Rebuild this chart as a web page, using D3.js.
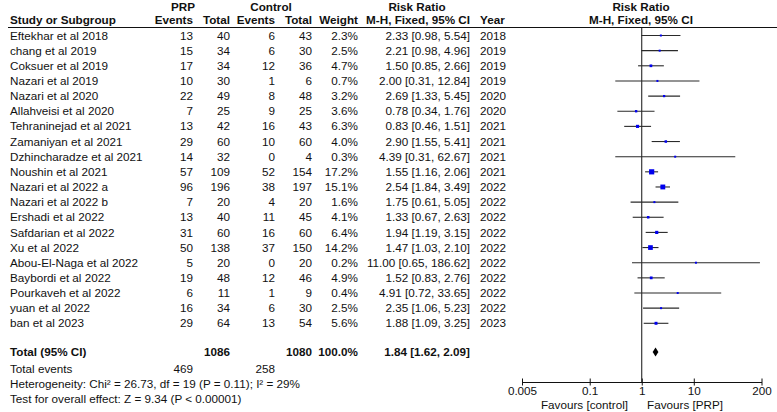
<!DOCTYPE html>
<html>
<head>
<meta charset="utf-8">
<script src="https://cdn.jsdelivr.net/npm/d3@7"></script>
<style>
  body { margin: 0; background: #fff; }
  svg text { font-family: Arial, "Liberation Sans", sans-serif; font-size: 11.7px; fill: #111; }
  .bold { font-weight: bold; }
</style>
</head>
<body>
<div id="chart"></div>
<script>
// study rows
const studies = ['Eftekhar et al 2018', 'chang et al 2019', 'Coksuer et al 2019', 'Nazari et al 2019',
  'Nazari et al 2020', 'Allahveisi et al 2020', 'Tehraninejad et al 2021', 'Zamaniyan et al 2021',
  'Dzhincharadze et al 2021', 'Noushin et al 2021', 'Nazari et al 2022 a', 'Nazari et al 2022 b',
  'Ershadi et al 2022', 'Safdarian et al 2022', 'Xu et al 2022', 'Abou-El-Naga et al 2022',
  'Baybordi et al 2022', 'Pourkaveh et al 2022', 'yuan et al 2022', 'ban et al 2023'];
const prpEvents = [13, 15, 17, 10, 22, 7, 13, 29, 14, 57, 96, 7, 13, 31, 50, 5, 19, 6, 16, 29];
const prpTotal = [40, 34, 34, 30, 49, 25, 42, 60, 32, 109, 196, 20, 40, 60, 138, 20, 48, 11, 34, 64];
const ctlEvents = [6, 6, 12, 1, 8, 9, 16, 10, 0, 52, 38, 4, 11, 16, 37, 0, 12, 1, 6, 13];
const ctlTotal = [43, 30, 36, 6, 48, 25, 43, 60, 4, 154, 197, 20, 45, 60, 150, 20, 46, 9, 30, 54];
const weights = [2.3, 2.5, 4.7, 0.7, 3.2, 3.6, 6.3, 4.0, 0.3, 17.2, 15.1, 1.6, 4.1, 6.4, 14.2, 0.2, 4.9, 0.4, 2.5, 5.6];
const rr = [2.33, 2.21, 1.50, 2.00, 2.69, 0.78, 0.83, 2.90, 4.39, 1.55, 2.54, 1.75, 1.33, 1.94, 1.47, 11.00, 1.52, 4.91, 2.35, 1.88];
const ciLo = [0.98, 0.98, 0.85, 0.31, 1.33, 0.34, 0.46, 1.55, 0.31, 1.16, 1.84, 0.61, 0.67, 1.19, 1.03, 0.65, 0.83, 0.72, 1.06, 1.09];
const ciHi = [5.54, 4.96, 2.66, 12.84, 5.45, 1.76, 1.51, 5.41, 62.67, 2.06, 3.49, 5.05, 2.63, 3.15, 2.10, 186.62, 2.76, 33.65, 5.23, 3.25];
const years = [2018, 2019, 2019, 2019, 2020, 2020, 2021, 2021, 2021, 2021, 2022, 2022, 2022, 2022, 2022, 2022, 2022, 2022, 2022, 2023];

// pooled result
const total = {prpTotal: 1086, ctlTotal: 1080, weight: '100.0%', rr: 1.84, lo: 1.62, hi: 2.09};
const totalEvents = [469, 258];
const hetText = 'Heterogeneity: Chi\u00b2 = 26.73, df = 19 (P = 0.11); I\u00b2 = 29%';
const testText = 'Test for overall effect: Z = 9.34 (P < 0.00001)';
const axisTicks = [0.005, 0.1, 1, 10, 200];

const width = 777, height = 412;
const f2 = d3.format('.2f');

const svg = d3.select('#chart').append('svg')
  .attr('width', width)
  .attr('height', height);

const x = d3.scaleLog().domain([0.005, 200]).range([522, 761.5]);
const y = d3.scaleLinear().domain([0, studies.length - 1]).range([35.5, 323.3]);
const yTotal = 352;
const yAxis = 382;

// column right edges
const col = {prpE: 193, prpT: 230, ctlE: 275, ctlT: 312, w: 358, rr: 470, year: 480};

function txt(g, xx, yy, s, anchor, bold) {
  g.append('text')
    .attr('x', xx).attr('y', yy).attr('dy', '0.35em')
    .attr('text-anchor', anchor || 'start')
    .attr('class', bold ? 'bold' : null)
    .text(s);
}

// header
const head = svg.append('g');
txt(head, 183, 6.5, 'PRP', 'middle', true);
txt(head, 271, 6.5, 'Control', 'middle', true);
txt(head, 417, 6.5, 'Risk Ratio', 'middle', true);
txt(head, 641, 6.5, 'Risk Ratio', 'middle', true);
txt(head, 10, 20, 'Study or Subgroup', 'start', true);
txt(head, col.prpE, 20, 'Events', 'end', true);
txt(head, col.prpT, 20, 'Total', 'end', true);
txt(head, col.ctlE, 20, 'Events', 'end', true);
txt(head, col.ctlT, 20, 'Total', 'end', true);
txt(head, col.w, 20, 'Weight', 'end', true);
txt(head, col.rr, 20, 'M-H, Fixed, 95% CI', 'end', true);
txt(head, col.year, 20, 'Year', 'start', true);
txt(head, 641, 20, 'M-H, Fixed, 95% CI', 'middle', true);

svg.append('line')
  .attr('x1', 8).attr('x2', width)
  .attr('y1', 27.5).attr('y2', 27.5)
  .attr('stroke', '#111').attr('stroke-width', 1);

// table rows
const rows = svg.append('g');
studies.forEach((s, i) => {
  const yy = y(i);
  txt(rows, 10, yy, s);
  txt(rows, col.prpE, yy, prpEvents[i], 'end');
  txt(rows, col.prpT, yy, prpTotal[i], 'end');
  txt(rows, col.ctlE, yy, ctlEvents[i], 'end');
  txt(rows, col.ctlT, yy, ctlTotal[i], 'end');
  txt(rows, col.w, yy, weights[i].toFixed(1) + '%', 'end');
  txt(rows, col.rr, yy, f2(rr[i]) + ' [' + f2(ciLo[i]) + ', ' + f2(ciHi[i]) + ']', 'end');
  txt(rows, col.year, yy, years[i]);
});

// totals
txt(rows, 10, yTotal, 'Total (95% CI)', 'start', true);
txt(rows, col.prpT, yTotal, total.prpTotal, 'end', true);
txt(rows, col.ctlT, yTotal, total.ctlTotal, 'end', true);
txt(rows, col.w, yTotal, total.weight, 'end', true);
txt(rows, col.rr, yTotal, f2(total.rr) + ' [' + f2(total.lo) + ', ' + f2(total.hi) + ']', 'end', true);
txt(rows, 10, 369, 'Total events');
txt(rows, col.prpE, 369, totalEvents[0], 'end');
txt(rows, col.ctlE, 369, totalEvents[1], 'end');
txt(rows, 10, 384, hetText);
txt(rows, 10, 399, testText);

// forest plot
const plot = svg.append('g');
plot.append('line')
  .attr('x1', x(1)).attr('x2', x(1))
  .attr('y1', 27.5).attr('y2', yAxis)
  .attr('stroke', '#111');

const ci = plot.selectAll('.ci').data(studies).enter().append('g').attr('class', 'ci');
ci.append('line')
  .attr('x1', (d, i) => x(ciLo[i]))
  .attr('x2', (d, i) => x(ciHi[i]))
  .attr('y1', (d, i) => y(i)).attr('y2', (d, i) => y(i))
  .attr('stroke', '#2a2a2a').attr('stroke-width', 1.1);
ci.append('rect')
  .each(function(d, i) {
    const side = Math.max(2, 1.25 * Math.sqrt(weights[i]));
    d3.select(this)
      .attr('x', x(rr[i]) - side / 2)
      .attr('y', y(i) - side / 2)
      .attr('width', side)
      .attr('height', side);
  })
  .attr('fill', '#0000ee');

// summary diamond
plot.append('path')
  .attr('d', d3.line()([
    [x(total.lo), yTotal], [x(total.rr), yTotal - 4.5],
    [x(total.hi), yTotal], [x(total.rr), yTotal + 4.5]
  ]) + 'Z')
  .attr('fill', '#000');

// axis
const ax = plot.append('g')
  .attr('transform', `translate(0,${yAxis})`)
  .call(d3.axisBottom(x).tickValues(axisTicks).tickFormat(d => String(d)).tickSize(3).tickSizeOuter(0));
ax.select('.domain').attr('stroke', '#111');
ax.selectAll('.tick line').attr('y1', -3.5).attr('y2', 3.5).attr('stroke', '#111');
ax.selectAll('.tick text')
  .attr('y', 9).attr('dy', '0.35em')
  .style('font-family', 'Arial, "Liberation Sans", sans-serif')
  .style('font-size', '11.7px')
  .attr('fill', '#111');

txt(plot, 628, 405, 'Favours [control]', 'end');
txt(plot, 647, 405, 'Favours [PRP]', 'start');
</script>
</body>
</html>
